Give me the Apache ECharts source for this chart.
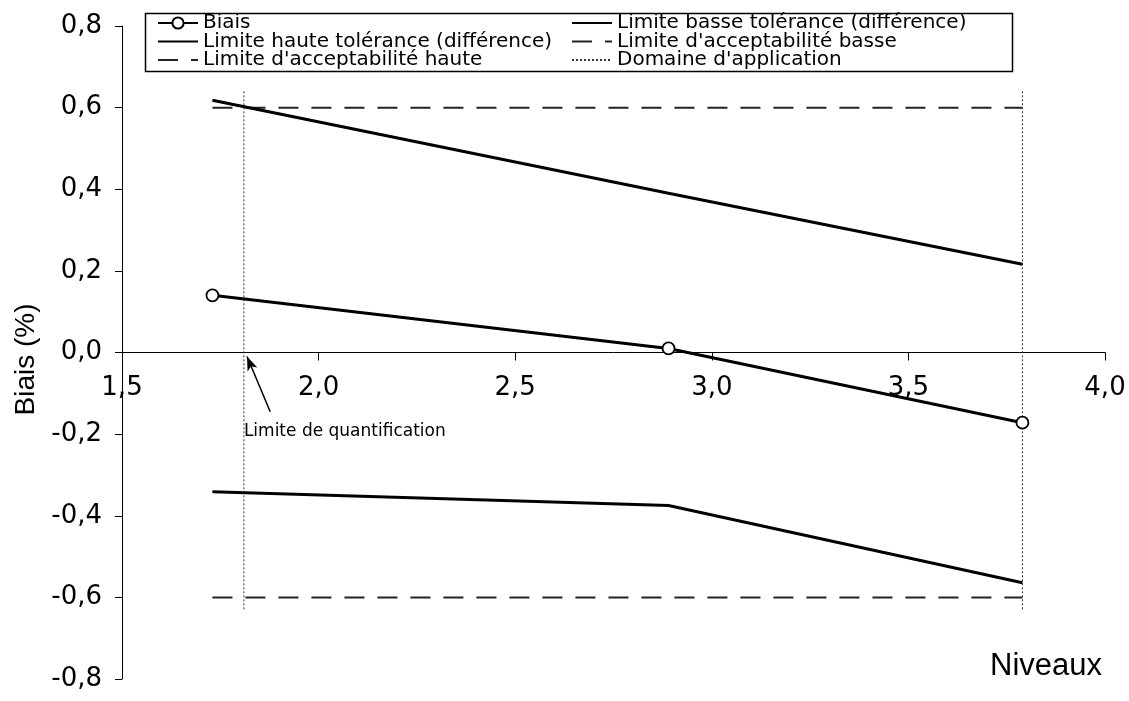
<!DOCTYPE html>
<html>
<head>
<meta charset="utf-8">
<script src="https://cdn.jsdelivr.net/npm/echarts@6/dist/echarts.min.js"></script>
<style>
  html, body { margin: 0; padding: 0; background: #fff; }
  #chart { width: 1129px; height: 701px; }
</style>
</head>
<body>
<div id="chart"></div>
<script>
// Niveaux (x) at which bias was assessed
const niveaux = [1.73, 2.89, 3.79];
// Bias values (%)
const biais = [0.14, 0.01, -0.172];
// Tolerance interval limits (difference)
const toleranceHaute = [0.618, 0.39, 0.216];
const toleranceBasse = [-0.341, -0.375, -0.564];
// Acceptability limits (%)
const acceptHaute = [0.6, 0.6, 0.6];
const acceptBasse = [-0.6, -0.6, -0.6];
// Limit of quantification and validity domain bounds
const limiteQuantification = 1.81;
const domaineBornes = [1.81, 3.79];
const domaineExtent = [0.64, -0.63];
// Axis ticks
const xTicks = { min: 1.5, max: 4.0, step: 0.5 };
const yTicks = { min: -0.8, max: 0.8, step: 0.2 };

const tickFont = 'DejaVu Sans, Verdana, sans-serif';
const legendFont = 'DejaVu Sans, Verdana, sans-serif';
const fmt = v => v.toFixed(1).replace('.', ',');
const pair = ys => niveaux.map((x, i) => [x, ys[i]]);
const hideSymbol = name => ({ name, itemStyle: { opacity: 0 } });

const chart = echarts.init(document.getElementById('chart'), null, { renderer: 'canvas' });

const domaineSeries = domaineBornes.map(x => ({
  name: "Domaine d'application",
  type: 'line',
  data: [[x, domaineExtent[0]], [x, domaineExtent[1]]],
  symbol: 'none',
  silent: true,
  itemStyle: { color: '#333' },
  lineStyle: { color: '#333', width: 1, type: [2, 2] },
  z: 1
}));

const legendCommon = {
  orient: 'vertical', top: 8, itemGap: -1.5,
  itemWidth: 40, itemHeight: 14,
  textStyle: { fontFamily: legendFont, fontSize: 20, lineHeight: 18, color: '#000' }
};

const option = {
  animation: false,
  backgroundColor: '#fff',
  grid: [
    // main plotting area
    { left: 122, right: 24, top: 26, bottom: 22, outerBoundsMode: 'none' },
    // carries the x tick labels just under the zero line
    { left: 122, right: 24, top: 26, bottom: 348, outerBoundsMode: 'none' }
  ],
  legend: [
    Object.assign({}, legendCommon, {
      left: 152,
      data: ['Biais', hideSymbol('Limite haute tolérance (différence)'), hideSymbol("Limite d'acceptabilité haute")]
    }),
    Object.assign({}, legendCommon, {
      left: 566,
      data: [hideSymbol('Limite basse tolérance (différence)'), hideSymbol("Limite d'acceptabilité basse"), hideSymbol("Domaine d'application")]
    })
  ],
  xAxis: [
    {
      type: 'value', gridIndex: 0,
      min: xTicks.min, max: xTicks.max, interval: xTicks.step,
      axisLine: { onZero: true, lineStyle: { color: '#000', width: 1 } },
      axisTick: { show: true, length: 8, lineStyle: { color: '#000' } },
      axisLabel: { show: false },
      splitLine: { show: false }
    },
    {
      type: 'value', gridIndex: 1, position: 'bottom',
      min: xTicks.min, max: xTicks.max, interval: xTicks.step,
      axisLine: { show: false },
      axisTick: { show: false },
      axisLabel: { formatter: fmt, color: '#000', fontFamily: tickFont, fontSize: 26, margin: 22 },
      splitLine: { show: false }
    }
  ],
  yAxis: [
    {
      type: 'value', gridIndex: 0,
      min: yTicks.min, max: yTicks.max, interval: yTicks.step,
      name: 'Biais (%)', nameLocation: 'middle', nameGap: 76, nameRotate: 90,
      nameTextStyle: { fontFamily: 'Liberation Sans, Arial, sans-serif', fontSize: 28, color: '#000', padding: [0, 14, 0, 0] },
      axisLine: { show: true, lineStyle: { color: '#000', width: 1 } },
      axisTick: { show: true, length: 7, lineStyle: { color: '#000' } },
      axisLabel: { formatter: fmt, color: '#000', fontFamily: tickFont, fontSize: 26, margin: 20 },
      splitLine: { show: false }
    },
    { type: 'value', gridIndex: 1, min: 0, max: 1, show: false }
  ],
  graphic: [
    {
      type: 'rect', left: 143, top: 11, silent: true,
      shape: { width: 867, height: 58 },
      style: { fill: 'none', stroke: '#000', lineWidth: 1.5 }
    },
    {
      type: 'text', left: 990, top: 651, silent: true,
      style: { text: 'Niveaux', fontFamily: 'Liberation Sans, Arial, sans-serif', fontSize: 31, fill: '#000' }
    }
  ],
  series: [
    {
      name: 'Biais', type: 'line', data: pair(biais),
      symbol: 'circle', symbolSize: 12,
      itemStyle: { color: '#fff', borderColor: '#000', borderWidth: 1.8 },
      lineStyle: { color: '#000', width: 3 },
      z: 5,
      markLine: {
        silent: true, symbol: ['none', 'arrow'], symbolSize: [8, 14],
        lineStyle: { color: '#000', width: 1.5, type: 'solid' },
        label: { show: false },
        data: [[{ coord: [1.877, -0.145] }, { coord: [limiteQuantification + 0.008, -0.01] }]]
      },
      markPoint: {
        silent: true, symbol: 'rect', symbolSize: 0,
        itemStyle: { color: 'transparent' },
        label: {
          show: true, position: 'right', distance: 0,
          formatter: 'Limite de quantification',
          fontFamily: tickFont, fontSize: 17, color: '#000'
        },
        data: [{ coord: [limiteQuantification, -0.194] }]
      }
    },
    {
      name: 'Limite haute tolérance (différence)', type: 'line', data: pair(toleranceHaute),
      symbol: 'none', lineStyle: { color: '#000', width: 3 }, itemStyle: { color: '#000' }, z: 4
    },
    {
      name: 'Limite basse tolérance (différence)', type: 'line', data: pair(toleranceBasse),
      symbol: 'none', lineStyle: { color: '#000', width: 3 }, itemStyle: { color: '#000' }, z: 4
    },
    {
      name: "Limite d'acceptabilité haute", type: 'line', data: pair(acceptHaute),
      symbol: 'none', lineStyle: { color: '#222', width: 2, type: [20, 13] }, itemStyle: { color: '#222' }, z: 3
    },
    {
      name: "Limite d'acceptabilité basse", type: 'line', data: pair(acceptBasse),
      symbol: 'none', lineStyle: { color: '#222', width: 2, type: [20, 13] }, itemStyle: { color: '#222' }, z: 3
    },
    ...domaineSeries
  ]
};

chart.setOption(option);
</script>
</body>
</html>
